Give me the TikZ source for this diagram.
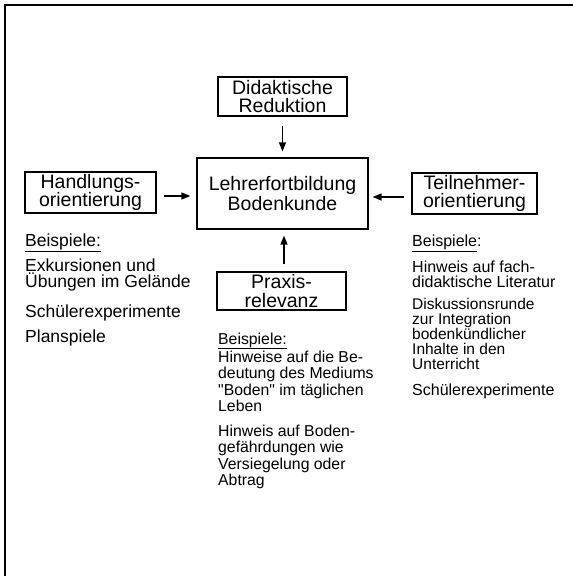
\documentclass[tikz,border=0pt]{standalone}
\usepackage{fontspec}
\setmainfont{Liberation Sans}[Ligatures=TeXOff]
\usetikzlibrary{arrows.meta}
\tikzset{
  box/.style={draw, line width=1.2pt, inner sep=0pt, align=center, font=\fontsize{19.5}{18.5}\selectfont},
  conn/.style={line width=1.3pt, -{Triangle[length=9pt,width=7pt]}},
  para/.style={anchor=base west, inner sep=0pt, align=left},
  frame/.style={line width=1.4pt}
}
\begin{document}
\begin{tikzpicture}[x=1pt,y=1pt]
\useasboundingbox (0,0) rectangle (573,-576);
\draw[frame] (5,-576) -- (5,-5) -- (573,-5);

\node[box, minimum width=129pt, minimum height=39pt] (did) at (282.5,-96.5) {Didaktische\\Reduktion};
\node[box, minimum width=171pt, minimum height=71pt] (cen) at (282.5,-193.5) {Lehrerfortbildung\\[1pt]Bodenkunde};
\node[box, minimum width=131pt, minimum height=41pt] (han) at (90.5,-192.5) {Handlungs-\\orientierung};
\node[box, minimum width=125pt, minimum height=41pt] (tei) at (474.5,-193.5) {Teilnehmer-\\orientierung};
\node[box, minimum width=129pt, minimum height=38pt] (pra) at (281.5,-291) {Praxis-\\relevanz};

\draw[conn, shorten <=9pt, shorten >=6pt] (did.south) -- (did.south |- cen.north);
\draw[conn, shorten <=7pt, shorten >=6pt] (han.east |- 0,-196) -- (cen.west |- 0,-196);
\draw[conn, shorten <=7pt, shorten >=4pt] (tei.west |- 0,-197) -- (cen.east |- 0,-197);
\draw[conn, shorten <=7pt, shorten >=6pt] (pra.north -| 284,0) -- (cen.south -| 284,0);

% left column (anchor = baseline of last line)
\node[para, font=\fontsize{17.5}{14.5}\selectfont] (lb) at (25,-246) {\underline{Beispiele:}};
\node[para, font=\fontsize{17.5}{14.5}\selectfont] (l1) at (25,-287) {Exkursionen und\\Übungen im Gelände};
\node[para, font=\fontsize{17.5}{14.5}\selectfont] (l2) at (25,-317) {Schülerexperimente};
\node[para, font=\fontsize{17.5}{14.5}\selectfont] (l3) at (25,-342) {Planspiele};

% middle column
\node[para, font=\fontsize{15.8}{16.5}\selectfont] (mb) at (218,-344) {\underline{Beispiele:}};
\node[para, font=\fontsize{15.8}{16.5}\selectfont] (m1) at (218,-411.5) {Hinweise auf die Be-\\deutung des Mediums\\"Boden" im täglichen\\Leben};
\node[para, font=\fontsize{15.8}{16.5}\selectfont] (m2) at (218,-485.5) {Hinweis auf Boden-\\gefährdungen wie\\Versiegelung oder\\Abtrag};

% right column
\node[para, font=\fontsize{16}{14.5}\selectfont] (rb) at (412,-246) {\underline{Beispiele}:};
\node[para, font=\fontsize{16}{14.5}\selectfont] (r1) at (412,-287) {Hinweis auf fach-\\didaktische Literatur};
\node[para, font=\fontsize{15.5}{14.8}\selectfont] (r2) at (412,-369) {Diskussionsrunde\\zur Integration\\bodenkündlicher\\Inhalte in den\\Unterricht};
\node[para, font=\fontsize{16}{14.5}\selectfont] (r3) at (412,-395) {Schülerexperimente};
\end{tikzpicture}
\end{document}
